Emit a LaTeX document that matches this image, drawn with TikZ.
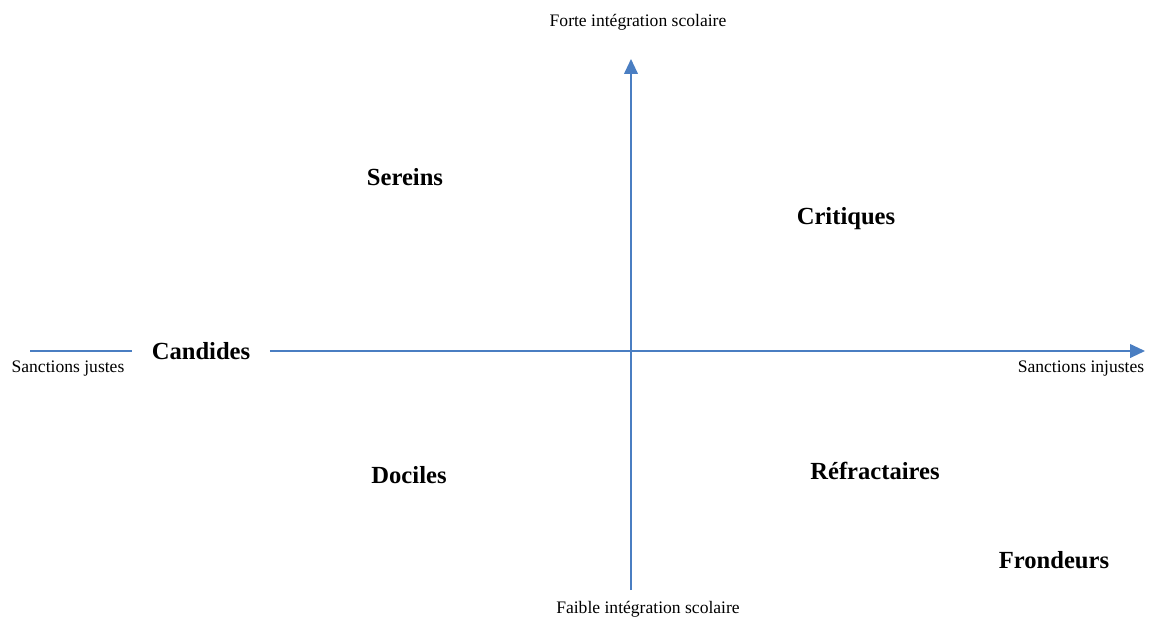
\documentclass[tikz,border=0pt]{standalone}
\usepackage{fontspec}
\setmainfont{Liberation Serif}
\usepackage{tikz}
\usetikzlibrary{arrows.meta,positioning,calc}

\begin{document}
\begin{tikzpicture}[x=0.02cm, y=-0.02cm]
    % Stili
    \tikzset{
        axe/.style={draw=axeblue, line width=0.9pt},
        fleche/.style={axe, -{Triangle[length=8.5pt, width=7.8pt]}},
        pole/.style={font=\fontsize{10}{12}\selectfont, inner sep=1pt},
        profil/.style={font=\fontsize{14}{16}\selectfont\bfseries, inner sep=1pt}
    }
    \definecolor{axeblue}{HTML}{4A7EC2}
    \useasboundingbox (0,0) rectangle (1150,620);

    % Axes
    \coordinate (xgauche) at (30,351);
    \coordinate (xdroite) at (1145,351);
    \coordinate (ybas) at (631,590);
    \coordinate (yhaut) at (631,59);
    \node[profil, inner xsep=11pt] (candides) at (201,351) {Candides};
    \draw[axe] (xgauche) -- (candides.west);
    \draw[fleche] (candides.east) -- (xdroite);
    \draw[fleche] (ybas) -- (yhaut);

    % Poles
    \node[pole] (forte) at (638,22) {Forte intégration scolaire};
    \node[pole] (faible) at (648,609) {Faible intégration scolaire};
    \node[pole] (justes) at (68,369) {Sanctions justes};
    \node[pole] (injustes) at (1081,369) {Sanctions injustes};

    % Profils
    \node[profil] (sereins) at (405,177) {Sereins};
    \node[profil] (critiques) at (846,219) {Critiques};
    \node[profil] (dociles) at (409,475) {Dociles};
    \node[profil] (refractaires) at (875,471) {Réfractaires};
    \node[profil] (frondeurs) at (1054,560) {Frondeurs};
\end{tikzpicture}
\end{document}
